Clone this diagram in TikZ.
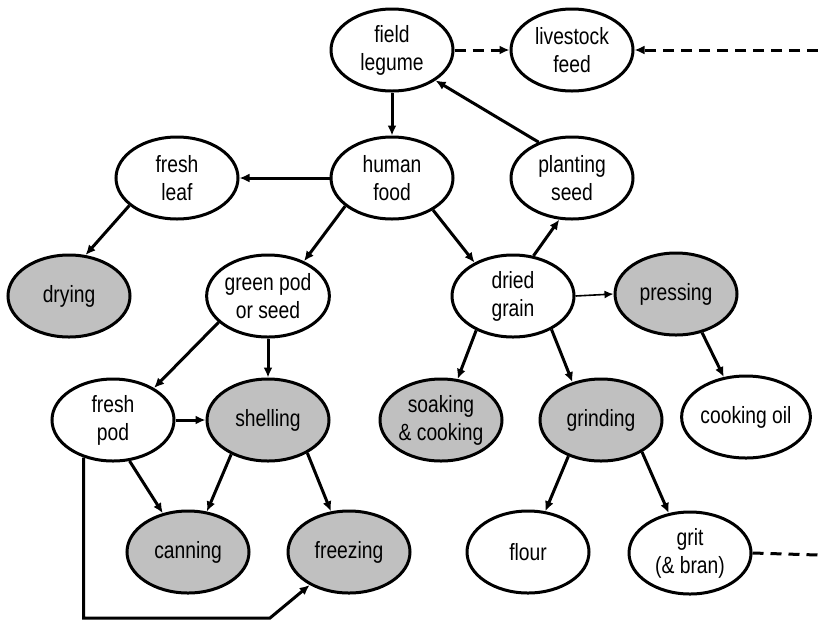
\documentclass[tikz,border=0pt]{standalone}
\usepackage{fontspec}
\setmainfont{Liberation Sans}[FakeStretch=0.82]
\usetikzlibrary{shapes.geometric,arrows.meta}
\definecolor{shade}{RGB}{192,192,192}
\begin{document}
\begin{tikzpicture}[x=1pt,y=-1pt,
  every node/.style={font=\fontsize{23.5}{28}\selectfont},
  bub/.style={ellipse,draw=black,line width=3pt,fill=white,minimum width=122pt,minimum height=82pt,inner sep=0pt,align=center},
  gbub/.style={bub,fill=shade},
  arr/.style={line width=3pt,-{Latex[length=10pt,width=9pt]}},
  thinarr/.style={line width=1.6pt,-{Latex[length=9pt,width=8pt]}},
  dasharr/.style={line width=3pt,dash pattern=on 11pt off 7pt,-{Latex[length=10pt,width=9pt]}},
  dashln/.style={line width=3pt,dash pattern=on 11pt off 7pt}]
\useasboundingbox[fill=white] (0,0) rectangle (818,622);
\node[bub] (fl) at (392,50) {field\\legume};
\node[bub] (lf) at (572,50) {livestock\\feed};
\node[bub] (fleaf) at (177,178) {fresh\\leaf};
\node[bub] (hf) at (392,178) {human\\food};
\node[bub] (ps) at (572,178) {planting\\seed};
\node[gbub] (dry) at (69,296) {drying};
\node[bub] (gp) at (268,296) {green pod\\or seed};
\node[bub] (dg) at (513,296) {dried\\grain};
\node[gbub] (pr) at (676,294) {pressing};
\node[bub] (fp) at (113,420) {fresh\\pod};
\node[gbub] (sh) at (268,420) {shelling};
\node[gbub] (sk) at (441,420) {soaking\\\& cooking};
\node[gbub] (gr) at (601,420) {grinding};
\node[bub] (co) at (746,417) {cooking oil};
\node[gbub] (can) at (188,552) {canning};
\node[gbub] (fr) at (349,552) {freezing};
\node[bub] (flour) at (528,552) {flour};
\node[bub] (grit) at (690,553) {grit\\(\& bran)};
\coordinate (rin) at (818,50);
\coordinate (rout) at (818,555);
\coordinate (bend) at (270,618);
% connectors
\draw[dasharr] (fl.east) -- (lf.west);
\draw[dasharr] (rin) -- (lf.east);
\draw[arr] (fl.south) -- (hf.north);
\draw[arr] (ps.133) -- (fl.-35);
\draw[arr] (hf.west) -- (fleaf.east);
\draw[arr] (fleaf.210) -- (dry.68);
\draw[arr] (hf.211) -- (gp.44);
\draw[arr] (hf.-38) -- (dg.139);
\draw[arr] (dg.63) -- (ps.253);
\draw[thinarr] (dg.east) -- (pr.west);
\draw[arr] (gp.208) -- (fp.38);
\draw[arr] (gp.south) -- (sh.north);
\draw[arr] (fp.east) -- (sh.west);
\draw[arr] (fp.-68) -- (can.123);
\draw[arr] (sh.223) -- (can.65);
\draw[arr] (sh.-40) -- (fr.114);
\draw[arr] (fp.232) |- (bend) -- (fr.220);
\draw[arr] (dg.223) -- (sk.68);
\draw[arr] (dg.-41) -- (gr.127);
\draw[arr] (pr.-56) -- (co.119);
\draw[arr] (gr.228) -- (flour.67);
\draw[arr] (gr.-38) -- (grit.118);
\draw[dashln] (grit.east) -- (rout);
\end{tikzpicture}
\end{document}
